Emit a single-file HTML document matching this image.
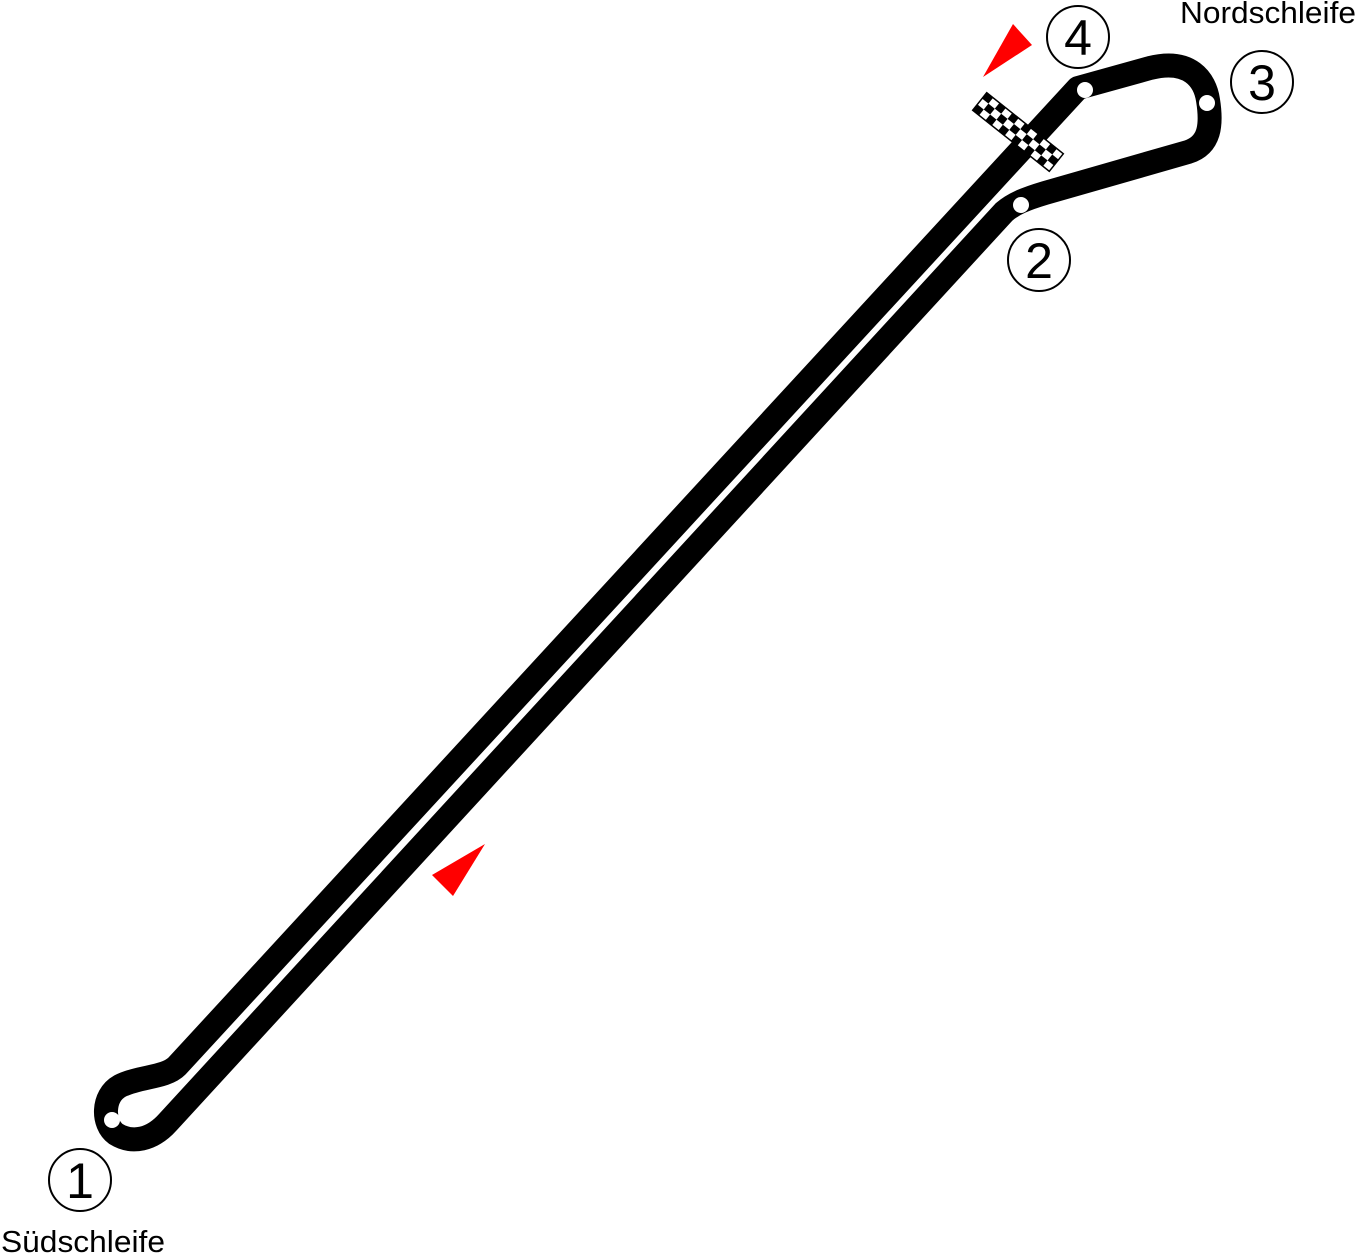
<!DOCTYPE html>
<html><head><meta charset="utf-8"><style>
html,body{margin:0;padding:0;background:#fff;}
svg{display:block;}
text{font-family:"Liberation Sans",sans-serif;}
</style></head><body>
<svg width="1358" height="1255" viewBox="0 0 1358 1255" xmlns="http://www.w3.org/2000/svg">
<path d="M1078,88 L1150,68 C1190,58 1205,80 1208,100 C1212,125 1210,145 1188,152 L1045,193 C1025,199 1013,204 1004,212 L168,1122 C152,1140 132,1144 116,1134 C102,1124 102,1096 120,1086 C140,1076 165,1078 177,1066 Z" fill="none" stroke="#000" stroke-width="24" stroke-linejoin="round"/>
<g fill="#fff">
<circle cx="1085" cy="90" r="8"/>
<circle cx="1207" cy="103" r="8"/>
<circle cx="1021" cy="205" r="8"/>
<circle cx="112" cy="1120" r="8"/>
</g>
<g transform="translate(1018,132) rotate(38.6)">
<rect x="-49" y="-11.25" width="98" height="22.5" fill="#fff" stroke="#000" stroke-width="1.5"/>
<g fill="#000">
<rect x="-49" y="-11.25" width="8.17" height="7.5"/><rect x="-32.67" y="-11.25" width="8.17" height="7.5"/><rect x="-16.33" y="-11.25" width="8.17" height="7.5"/><rect x="0" y="-11.25" width="8.17" height="7.5"/><rect x="16.33" y="-11.25" width="8.17" height="7.5"/><rect x="32.67" y="-11.25" width="8.17" height="7.5"/>
<rect x="-40.83" y="-3.75" width="8.17" height="7.5"/><rect x="-24.5" y="-3.75" width="8.17" height="7.5"/><rect x="-8.17" y="-3.75" width="8.17" height="7.5"/><rect x="8.17" y="-3.75" width="8.17" height="7.5"/><rect x="24.5" y="-3.75" width="8.17" height="7.5"/><rect x="40.83" y="-3.75" width="8.17" height="7.5"/>
<rect x="-49" y="3.75" width="8.17" height="7.5"/><rect x="-32.67" y="3.75" width="8.17" height="7.5"/><rect x="-16.33" y="3.75" width="8.17" height="7.5"/><rect x="0" y="3.75" width="8.17" height="7.5"/><rect x="16.33" y="3.75" width="8.17" height="7.5"/><rect x="32.67" y="3.75" width="8.17" height="7.5"/>
</g>
</g>
<polygon points="983,77 1013,24 1032,45" fill="#f00"/>
<polygon points="432,875 485,844 453,896" fill="#f00"/>
<g fill="#fff" stroke="#000" stroke-width="2">
<circle cx="1078" cy="37" r="31"/>
<circle cx="1262" cy="82" r="31"/>
<circle cx="1039" cy="260" r="31"/>
<circle cx="80" cy="1180" r="31"/>
</g>
<g font-size="50" text-anchor="middle" fill="#000">
<text x="1078" y="55">4</text>
<text x="1262" y="100">3</text>
<text x="1039" y="278">2</text>
<text x="80" y="1198">1</text>
</g>
<text x="1268" y="23" font-size="31" text-anchor="middle" textLength="176" lengthAdjust="spacingAndGlyphs">Nordschleife</text>
<text x="83" y="1252" font-size="31" text-anchor="middle" textLength="164" lengthAdjust="spacingAndGlyphs">Südschleife</text>
</svg>
</body></html>
